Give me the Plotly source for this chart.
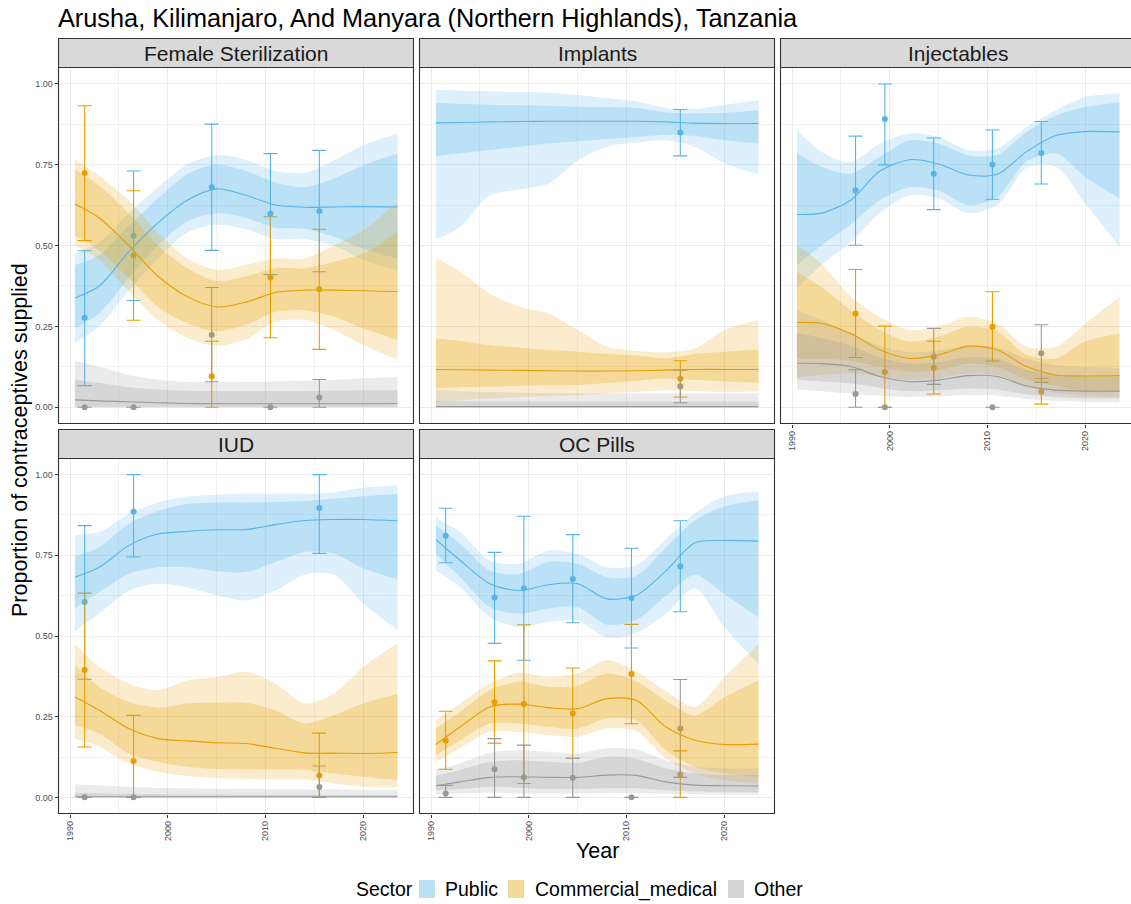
import plotly.graph_objects as go

# ---------------------------------------------------------------- data
PANELS = ["Female Sterilization", "Implants", "Injectables", "IUD", "OC Pills"]
SECTORS = ["Public", "Commercial_medical", "Other"]

# model grid (years at which the fitted curves / intervals were read)
YEARS = [1990.5, 1993, 1996, 1999, 2002, 2005, 2008, 2011, 2014, 2017, 2020, 2023.5]

# --- Female Sterilization
fs_pub_med = [0.338, 0.375, 0.48, 0.57, 0.64, 0.675, 0.655, 0.625, 0.618, 0.619, 0.62, 0.619]
fs_pub_lo95 = [0.2, 0.25, 0.36, 0.46, 0.54, 0.565, 0.55, 0.52, 0.52, 0.5, 0.455, 0.424]
fs_pub_lo80 = [0.245, 0.29, 0.4, 0.5, 0.575, 0.6, 0.585, 0.555, 0.552, 0.527, 0.49, 0.46]
fs_pub_hi80 = [0.44, 0.47, 0.56, 0.645, 0.72, 0.75, 0.73, 0.695, 0.68, 0.707, 0.748, 0.784]
fs_pub_hi95 = [0.475, 0.51, 0.6, 0.68, 0.75, 0.78, 0.765, 0.73, 0.725, 0.763, 0.81, 0.846]
fs_com_med = [0.628, 0.585, 0.5, 0.405, 0.342, 0.31, 0.325, 0.355, 0.362, 0.362, 0.36, 0.357]
fs_com_lo95 = [0.5, 0.455, 0.36, 0.27, 0.215, 0.19, 0.21, 0.265, 0.27, 0.24, 0.192, 0.148]
fs_com_lo80 = [0.53, 0.485, 0.4, 0.31, 0.26, 0.235, 0.255, 0.295, 0.3, 0.28, 0.244, 0.208]
fs_com_hi80 = [0.735, 0.685, 0.6, 0.5, 0.43, 0.39, 0.405, 0.43, 0.43, 0.45, 0.475, 0.542]
fs_com_hi95 = [0.765, 0.715, 0.64, 0.54, 0.46, 0.425, 0.44, 0.46, 0.46, 0.5, 0.547, 0.635]
fs_oth_med = [0.023, 0.02, 0.017, 0.014, 0.012, 0.011, 0.011, 0.011, 0.011, 0.011, 0.011, 0.012]
fs_oth_lo95 = [0.0, 0.0, 0.0, 0.0, 0.0, 0.0, 0.0, 0.0, 0.0, 0.0, 0.0, 0.0]
fs_oth_lo80 = [0.002, 0.002, 0.002, 0.002, 0.002, 0.002, 0.002, 0.002, 0.002, 0.002, 0.002, 0.002]
fs_oth_hi80 = [0.086, 0.075, 0.062, 0.055, 0.051, 0.05, 0.05, 0.05, 0.05, 0.052, 0.053, 0.053]
fs_oth_hi95 = [0.144, 0.125, 0.1, 0.085, 0.078, 0.077, 0.078, 0.08, 0.082, 0.085, 0.09, 0.094]

# --- Implants
im_pub_med = [0.879, 0.88, 0.882, 0.883, 0.884, 0.884, 0.884, 0.884, 0.882, 0.878, 0.877, 0.877]
im_pub_lo95 = [0.519, 0.558, 0.655, 0.673, 0.691, 0.763, 0.805, 0.818, 0.825, 0.805, 0.755, 0.719]
im_pub_lo80 = [0.776, 0.785, 0.795, 0.805, 0.815, 0.822, 0.829, 0.835, 0.842, 0.838, 0.825, 0.815]
im_pub_hi80 = [0.94, 0.937, 0.935, 0.933, 0.931, 0.929, 0.927, 0.925, 0.912, 0.908, 0.91, 0.918]
im_pub_hi95 = [0.981, 0.978, 0.976, 0.975, 0.972, 0.965, 0.955, 0.945, 0.925, 0.922, 0.935, 0.949]
im_com_med = [0.117, 0.116, 0.115, 0.114, 0.113, 0.112, 0.112, 0.113, 0.115, 0.117, 0.117, 0.117]
im_com_lo95 = [0.017, 0.022, 0.027, 0.031, 0.035, 0.038, 0.043, 0.048, 0.053, 0.05, 0.048, 0.05]
im_com_lo80 = [0.059, 0.062, 0.064, 0.066, 0.068, 0.069, 0.075, 0.082, 0.089, 0.085, 0.08, 0.077]
im_com_hi80 = [0.213, 0.205, 0.192, 0.185, 0.178, 0.172, 0.165, 0.16, 0.152, 0.165, 0.172, 0.179]
im_com_hi95 = [0.462, 0.419, 0.352, 0.311, 0.29, 0.239, 0.187, 0.174, 0.17, 0.182, 0.239, 0.27]
im_oth_med = [0.002, 0.002, 0.002, 0.002, 0.002, 0.002, 0.002, 0.002, 0.002, 0.002, 0.002, 0.002]
im_oth_lo95 = [0.0, 0.0, 0.0, 0.0, 0.0, 0.0, 0.0, 0.0, 0.0, 0.0, 0.0, 0.0]
im_oth_lo80 = [0.0, 0.0, 0.0, 0.0, 0.0, 0.0, 0.0, 0.0, 0.0, 0.0, 0.0, 0.0]
im_oth_hi80 = [0.02, 0.019, 0.018, 0.018, 0.017, 0.017, 0.017, 0.017, 0.017, 0.017, 0.017, 0.017]
im_oth_hi95 = [0.053, 0.05, 0.047, 0.045, 0.044, 0.043, 0.043, 0.043, 0.043, 0.043, 0.043, 0.043]

# --- Injectables
in_pub_med = [0.596, 0.6, 0.64, 0.73, 0.765, 0.752, 0.718, 0.72, 0.79, 0.84, 0.852, 0.851]
in_pub_lo95 = [0.367, 0.44, 0.51, 0.6, 0.655, 0.645, 0.6, 0.625, 0.74, 0.743, 0.63, 0.496]
in_pub_lo80 = [0.44, 0.5, 0.565, 0.64, 0.68, 0.67, 0.625, 0.65, 0.76, 0.784, 0.712, 0.645]
in_pub_hi80 = [0.786, 0.743, 0.722, 0.774, 0.825, 0.815, 0.779, 0.78, 0.851, 0.902, 0.928, 0.943]
in_pub_hi95 = [0.858, 0.79, 0.757, 0.815, 0.846, 0.835, 0.795, 0.8, 0.866, 0.918, 0.959, 0.969]
in_com_med = [0.262, 0.26, 0.228, 0.177, 0.151, 0.162, 0.189, 0.177, 0.126, 0.1, 0.097, 0.098]
in_com_lo95 = [0.094, 0.1, 0.105, 0.095, 0.085, 0.09, 0.105, 0.1, 0.065, 0.045, 0.035, 0.033]
in_com_lo80 = [0.15, 0.15, 0.145, 0.125, 0.11, 0.115, 0.135, 0.125, 0.085, 0.065, 0.05, 0.048]
in_com_hi80 = [0.419, 0.372, 0.3, 0.239, 0.203, 0.218, 0.249, 0.234, 0.162, 0.151, 0.203, 0.228]
in_com_hi95 = [0.501, 0.444, 0.342, 0.28, 0.239, 0.249, 0.28, 0.259, 0.187, 0.187, 0.259, 0.341]
in_oth_med = [0.136, 0.135, 0.126, 0.095, 0.079, 0.084, 0.098, 0.095, 0.066, 0.053, 0.05, 0.05]
in_oth_lo95 = [0.056, 0.05, 0.043, 0.036, 0.032, 0.034, 0.038, 0.036, 0.026, 0.02, 0.017, 0.015]
in_oth_lo80 = [0.085, 0.08, 0.074, 0.06, 0.05, 0.052, 0.058, 0.055, 0.04, 0.032, 0.028, 0.027]
in_oth_hi80 = [0.23, 0.215, 0.19, 0.155, 0.135, 0.14, 0.155, 0.15, 0.115, 0.1, 0.095, 0.092]
in_oth_hi95 = [0.3, 0.27, 0.23, 0.19, 0.17, 0.175, 0.19, 0.185, 0.15, 0.13, 0.125, 0.12]

# --- IUD
iu_pub_med = [0.682, 0.713, 0.78, 0.816, 0.824, 0.829, 0.83, 0.845, 0.858, 0.861, 0.861, 0.857]
iu_pub_lo95 = [0.515, 0.57, 0.64, 0.662, 0.65, 0.626, 0.61, 0.641, 0.69, 0.69, 0.6, 0.518]
iu_pub_lo80 = [0.585, 0.636, 0.693, 0.713, 0.713, 0.701, 0.698, 0.729, 0.76, 0.755, 0.71, 0.676]
iu_pub_hi80 = [0.746, 0.775, 0.847, 0.887, 0.909, 0.914, 0.914, 0.915, 0.918, 0.925, 0.933, 0.941]
iu_pub_hi95 = [0.813, 0.822, 0.878, 0.914, 0.932, 0.938, 0.94, 0.94, 0.94, 0.945, 0.959, 0.966]
iu_com_med = [0.311, 0.27, 0.213, 0.182, 0.175, 0.169, 0.167, 0.152, 0.138, 0.137, 0.136, 0.139]
iu_com_lo95 = [0.182, 0.157, 0.105, 0.079, 0.066, 0.059, 0.057, 0.057, 0.056, 0.043, 0.033, 0.031]
iu_com_lo80 = [0.224, 0.198, 0.136, 0.11, 0.095, 0.088, 0.087, 0.087, 0.085, 0.074, 0.064, 0.054]
iu_com_hi80 = [0.411, 0.342, 0.296, 0.278, 0.291, 0.293, 0.293, 0.27, 0.229, 0.255, 0.291, 0.32]
iu_com_hi95 = [0.476, 0.404, 0.353, 0.332, 0.363, 0.373, 0.389, 0.353, 0.291, 0.322, 0.404, 0.478]
iu_oth_med = [0.002, 0.002, 0.002, 0.002, 0.002, 0.002, 0.002, 0.002, 0.002, 0.002, 0.002, 0.002]
iu_oth_lo95 = [0.0, 0.0, 0.0, 0.0, 0.0, 0.0, 0.0, 0.0, 0.0, 0.0, 0.0, 0.0]
iu_oth_lo80 = [0.0, 0.0, 0.0, 0.0, 0.0, 0.0, 0.0, 0.0, 0.0, 0.0, 0.0, 0.0]
iu_oth_hi80 = [0.014, 0.013, 0.011, 0.01, 0.009, 0.009, 0.008, 0.008, 0.008, 0.007, 0.007, 0.007]
iu_oth_hi95 = [0.041, 0.037, 0.033, 0.03, 0.028, 0.027, 0.026, 0.025, 0.024, 0.024, 0.023, 0.023]

# --- OC Pills
oc_pub_med = [0.799, 0.734, 0.662, 0.641, 0.659, 0.662, 0.615, 0.626, 0.701, 0.789, 0.796, 0.794]
oc_pub_lo95 = [0.703, 0.651, 0.559, 0.528, 0.543, 0.548, 0.495, 0.51, 0.568, 0.648, 0.527, 0.413]
oc_pub_lo80 = [0.755, 0.682, 0.59, 0.569, 0.585, 0.59, 0.535, 0.55, 0.624, 0.69, 0.63, 0.557]
oc_pub_hi80 = [0.842, 0.786, 0.703, 0.692, 0.729, 0.724, 0.682, 0.687, 0.773, 0.858, 0.902, 0.921]
oc_pub_hi95 = [0.866, 0.822, 0.734, 0.724, 0.765, 0.755, 0.713, 0.72, 0.799, 0.88, 0.933, 0.948]
oc_com_med = [0.164, 0.219, 0.28, 0.289, 0.278, 0.275, 0.306, 0.301, 0.219, 0.177, 0.164, 0.165]
oc_com_lo95 = [0.11, 0.153, 0.203, 0.203, 0.193, 0.188, 0.213, 0.205, 0.121, 0.074, 0.054, 0.043]
oc_com_lo80 = [0.131, 0.177, 0.229, 0.229, 0.219, 0.213, 0.244, 0.239, 0.146, 0.095, 0.074, 0.064]
oc_com_hi80 = [0.213, 0.265, 0.332, 0.358, 0.342, 0.347, 0.384, 0.36, 0.3, 0.254, 0.31, 0.362]
oc_com_hi95 = [0.239, 0.291, 0.353, 0.386, 0.373, 0.384, 0.425, 0.39, 0.33, 0.28, 0.372, 0.475]
oc_oth_med = [0.036, 0.048, 0.062, 0.064, 0.062, 0.062, 0.069, 0.068, 0.048, 0.038, 0.036, 0.035]
oc_oth_lo95 = [0.01, 0.012, 0.014, 0.013, 0.012, 0.012, 0.013, 0.013, 0.011, 0.01, 0.009, 0.009]
oc_oth_lo80 = [0.023, 0.026, 0.033, 0.03, 0.026, 0.026, 0.028, 0.028, 0.022, 0.018, 0.016, 0.016]
oc_oth_hi80 = [0.066, 0.085, 0.11, 0.115, 0.11, 0.107, 0.126, 0.12, 0.09, 0.074, 0.069, 0.069]
oc_oth_hi95 = [0.087, 0.105, 0.138, 0.146, 0.141, 0.136, 0.152, 0.148, 0.115, 0.095, 0.09, 0.09]

# survey observations (value, lower, upper)
fs_obs_years = [1991.5, 1996.5, 2004.5, 2010.5, 2015.5]
fs_pub_obs = [0.277, 0.53, 0.68, 0.598, 0.606]
fs_pub_obs_lo = [0.067, 0.33, 0.485, 0.41, 0.419]
fs_pub_obs_hi = [0.484, 0.73, 0.875, 0.784, 0.794]
fs_com_obs = [0.724, 0.469, 0.096, 0.401, 0.365]
fs_com_obs_lo = [0.515, 0.269, 0.0, 0.215, 0.179]
fs_com_obs_hi = [0.932, 0.669, 0.204, 0.589, 0.55]
fs_oth_obs = [0.0, 0.0, 0.224, 0.0, 0.03]
fs_oth_obs_lo = [0.0, 0.0, 0.079, 0.0, 0.0]
fs_oth_obs_hi = [0.0, 0.0, 0.37, 0.0, 0.086]

im_obs_years = [2015.5]
im_pub_obs, im_pub_obs_lo, im_pub_obs_hi = [0.849], [0.777], [0.92]
im_com_obs, im_com_obs_lo, im_com_obs_hi = [0.088], [0.032], [0.144]
im_oth_obs, im_oth_obs_lo, im_oth_obs_hi = [0.065], [0.014], [0.115]

in_obs_years = [1996.5, 1999.5, 2004.5, 2010.5, 2015.5]
in_pub_obs = [0.671, 0.891, 0.722, 0.75, 0.786]
in_pub_obs_lo = [0.501, 0.749, 0.611, 0.643, 0.69]
in_pub_obs_hi = [0.838, 0.999, 0.832, 0.857, 0.883]
in_com_obs = [0.29, 0.109, 0.122, 0.249, 0.048]
in_com_obs_lo = [0.154, 0.0, 0.041, 0.143, 0.01]
in_com_obs_hi = [0.426, 0.251, 0.204, 0.357, 0.09]
in_oth_obs = [0.041, 0.0, 0.156, 0.0, 0.167]
in_oth_obs_lo = [0.0, 0.0, 0.071, 0.0, 0.077]
in_oth_obs_hi = [0.116, 0.0, 0.244, 0.0, 0.255]

iu_obs_years = [1991.5, 1996.5, 2015.5]
iu_pub_obs = [0.605, 0.886, 0.897]
iu_pub_obs_lo = [0.366, 0.745, 0.756]
iu_pub_obs_hi = [0.842, 1.0, 1.0]
iu_com_obs = [0.395, 0.113, 0.068]
iu_com_obs_lo = [0.156, 0.0, 0.0]
iu_com_obs_hi = [0.633, 0.254, 0.199]
iu_oth_obs = [0.0, 0.0, 0.032]
iu_oth_obs_lo = [0.0, 0.0, 0.0]
iu_oth_obs_hi = [0.0, 0.0, 0.097]

oc_obs_years = [1991.5, 1996.5, 1999.5, 2004.5, 2010.5, 2015.5]
oc_pub_obs = [0.811, 0.619, 0.648, 0.677, 0.618, 0.716]
oc_pub_obs_lo = [0.727, 0.477, 0.425, 0.541, 0.463, 0.575]
oc_pub_obs_hi = [0.896, 0.759, 0.871, 0.814, 0.772, 0.857]
oc_com_obs = [0.176, 0.295, 0.289, 0.26, 0.382, 0.071]
oc_com_obs_lo = [0.087, 0.168, 0.043, 0.121, 0.228, 0.0]
oc_com_obs_hi = [0.267, 0.423, 0.535, 0.401, 0.536, 0.144]
oc_oth_obs = [0.012, 0.087, 0.062, 0.061, 0.0, 0.213]
oc_oth_obs_lo = [0.0, 0.0, 0.0, 0.0, 0.0, 0.062]
oc_oth_obs_hi = [0.037, 0.182, 0.162, 0.121, 0.0, 0.365]

X_TICKS = [1990, 2000, 2010, 2020]
Y_TICKS = [0.0, 0.25, 0.5, 0.75, 1.0]
Y_TICK_TEXT = ["0.00", "0.25", "0.50", "0.75", "1.00"]

# ---------------------------------------------------------------- assemble
curves = {
    0: [(fs_pub_med, fs_pub_lo95, fs_pub_lo80, fs_pub_hi80, fs_pub_hi95),
        (fs_com_med, fs_com_lo95, fs_com_lo80, fs_com_hi80, fs_com_hi95),
        (fs_oth_med, fs_oth_lo95, fs_oth_lo80, fs_oth_hi80, fs_oth_hi95)],
    1: [(im_pub_med, im_pub_lo95, im_pub_lo80, im_pub_hi80, im_pub_hi95),
        (im_com_med, im_com_lo95, im_com_lo80, im_com_hi80, im_com_hi95),
        (im_oth_med, im_oth_lo95, im_oth_lo80, im_oth_hi80, im_oth_hi95)],
    2: [(in_pub_med, in_pub_lo95, in_pub_lo80, in_pub_hi80, in_pub_hi95),
        (in_com_med, in_com_lo95, in_com_lo80, in_com_hi80, in_com_hi95),
        (in_oth_med, in_oth_lo95, in_oth_lo80, in_oth_hi80, in_oth_hi95)],
    3: [(iu_pub_med, iu_pub_lo95, iu_pub_lo80, iu_pub_hi80, iu_pub_hi95),
        (iu_com_med, iu_com_lo95, iu_com_lo80, iu_com_hi80, iu_com_hi95),
        (iu_oth_med, iu_oth_lo95, iu_oth_lo80, iu_oth_hi80, iu_oth_hi95)],
    4: [(oc_pub_med, oc_pub_lo95, oc_pub_lo80, oc_pub_hi80, oc_pub_hi95),
        (oc_com_med, oc_com_lo95, oc_com_lo80, oc_com_hi80, oc_com_hi95),
        (oc_oth_med, oc_oth_lo95, oc_oth_lo80, oc_oth_hi80, oc_oth_hi95)],
}
observations = {
    0: (fs_obs_years, [(fs_pub_obs, fs_pub_obs_lo, fs_pub_obs_hi),
                       (fs_com_obs, fs_com_obs_lo, fs_com_obs_hi),
                       (fs_oth_obs, fs_oth_obs_lo, fs_oth_obs_hi)]),
    1: (im_obs_years, [(im_pub_obs, im_pub_obs_lo, im_pub_obs_hi),
                       (im_com_obs, im_com_obs_lo, im_com_obs_hi),
                       (im_oth_obs, im_oth_obs_lo, im_oth_obs_hi)]),
    2: (in_obs_years, [(in_pub_obs, in_pub_obs_lo, in_pub_obs_hi),
                       (in_com_obs, in_com_obs_lo, in_com_obs_hi),
                       (in_oth_obs, in_oth_obs_lo, in_oth_obs_hi)]),
    3: (iu_obs_years, [(iu_pub_obs, iu_pub_obs_lo, iu_pub_obs_hi),
                       (iu_com_obs, iu_com_obs_lo, iu_com_obs_hi),
                       (iu_oth_obs, iu_oth_obs_lo, iu_oth_obs_hi)]),
    4: (oc_obs_years, [(oc_pub_obs, oc_pub_obs_lo, oc_pub_obs_hi),
                       (oc_com_obs, oc_com_obs_lo, oc_com_obs_hi),
                       (oc_oth_obs, oc_oth_obs_lo, oc_oth_obs_hi)]),
}

RGB = {"Public": (86, 180, 233), "Commercial_medical": (230, 159, 0), "Other": (153, 153, 153)}


def rgba(rgb, a):
    return "rgba(%d,%d,%d,%s)" % (rgb[0], rgb[1], rgb[2], a)


W, H = 1131, 904
FONT = "Liberation Sans, Arial, Helvetica, sans-serif"
COL_X = [(58.5, 413.5), (419.5, 774.5), (780.5, 1135.5)]
ROW_Y = [(67.5, 423.5), (458.5, 813.5)]
STRIP_Y = [(38.5, 67.5), (429.5, 458.5)]
GRID = [(0, 0), (0, 1), (0, 2), (1, 0), (1, 1)]
PX_PER_YEAR = 9.777
X0_YEAR = 1988.824

fig = go.Figure()
layout = dict(
    width=W, height=H,
    margin=dict(l=0, r=0, t=0, b=0),
    paper_bgcolor="white", plot_bgcolor="white",
    showlegend=False,
    font=dict(family=FONT, color="black"),
)
shapes = []
annotations = []

for p, name in enumerate(PANELS):
    r, c = GRID[p]
    xa = "x" if p == 0 else "x%d" % (p + 1)
    ya = "y" if p == 0 else "y%d" % (p + 1)
    x0, x1 = COL_X[c]
    x1c = min(x1, W)
    y0, y1 = ROW_Y[r]

    show_x = (r == 1) or (p == 2)
    show_y = (c == 0)

    layout["xaxis" if p == 0 else "xaxis%d" % (p + 1)] = dict(
        domain=[x0 / W, x1c / W], anchor=ya,
        range=[X0_YEAR, X0_YEAR + (x1c - x0) / PX_PER_YEAR],
        tickvals=X_TICKS, ticktext=[str(v) for v in X_TICKS],
        showticklabels=show_x, ticks="outside" if show_x else "",
        ticklen=3, tickcolor="#333333", tickwidth=1, tickangle=-90,
        tickfont=dict(size=9, color="#4D4D4D", family=FONT),
        showgrid=True, gridcolor="#EBEBEB", gridwidth=1.1, zeroline=False,
        minor=dict(tickvals=[1995, 2005, 2015], showgrid=True, gridcolor="#F2F2F2", gridwidth=0.6),
        showline=False, fixedrange=True,
    )
    layout["yaxis" if p == 0 else "yaxis%d" % (p + 1)] = dict(
        domain=[1 - y1 / H, 1 - y0 / H], anchor=xa,
        range=[-0.05, 1.05],
        tickvals=Y_TICKS, ticktext=Y_TICK_TEXT,
        showticklabels=show_y, ticks="outside" if show_y else "",
        ticklen=3, tickcolor="#333333", tickwidth=1,
        tickfont=dict(size=9, color="#4D4D4D", family=FONT),
        showgrid=True, gridcolor="#EBEBEB", gridwidth=1.1, zeroline=False,
        minor=dict(tickvals=[0.125, 0.375, 0.625, 0.875], showgrid=True, gridcolor="#F2F2F2", gridwidth=0.6),
        showline=False, fixedrange=True,
    )

    # observed points with error bars (drawn first; ribbons sit over them)
    obs_years, obs_sets = observations[p]
    for s, (val, lo, hi) in enumerate(obs_sets):
        col = rgba(RGB[SECTORS[s]], 1)
        fig.add_trace(go.Scatter(
            x=obs_years, y=val, xaxis=xa, yaxis=ya, mode="markers",
            marker=dict(size=6, color=col),
            error_y=dict(type="data", symmetric=False,
                         array=[h - v for h, v in zip(hi, val)],
                         arrayminus=[v - l for v, l in zip(val, lo)],
                         color=col, thickness=1.1, width=7),
            hoverinfo="skip",
        ))

    # uncertainty ribbons
    for s, (med, lo95, lo80, hi80, hi95) in enumerate(curves[p]):
        rgb = RGB[SECTORS[s]]
        for lo, hi, a in ((lo95, hi95, 0.2), (lo80, hi80, 0.25)):
            fig.add_trace(go.Scatter(
                x=YEARS, y=lo, xaxis=xa, yaxis=ya, mode="lines",
                line=dict(width=0, shape="spline", smoothing=0.8),
                hoverinfo="skip",
            ))
            fig.add_trace(go.Scatter(
                x=YEARS, y=hi, xaxis=xa, yaxis=ya, mode="lines",
                line=dict(width=0, shape="spline", smoothing=0.8),
                fill="tonexty", fillcolor=rgba(rgb, a),
                hoverinfo="skip",
            ))

    # median lines
    for s, (med, lo95, lo80, hi80, hi95) in enumerate(curves[p]):
        fig.add_trace(go.Scatter(
            x=YEARS, y=med, xaxis=xa, yaxis=ya, mode="lines",
            line=dict(width=1.1, color=rgba(RGB[SECTORS[s]], 1), shape="spline", smoothing=0.8),
            hoverinfo="skip",
        ))

    # panel border and facet strip
    sy0, sy1 = STRIP_Y[r]
    shapes.append(dict(type="rect", xref="paper", yref="paper",
                       x0=x0 / W, x1=x1 / W, y0=1 - y1 / H, y1=1 - y0 / H,
                       line=dict(color="#333333", width=1.1), fillcolor="rgba(0,0,0,0)", layer="above"))
    shapes.append(dict(type="rect", xref="paper", yref="paper",
                       x0=x0 / W, x1=x1 / W, y0=1 - sy1 / H, y1=1 - sy0 / H,
                       line=dict(color="#333333", width=1.1), fillcolor="#D9D9D9", layer="above"))
    annotations.append(dict(text=name, xref="paper", yref="paper",
                            x=(x0 + x1) / 2 / W, y=1 - (sy0 + sy1) / 2 / H,
                            xanchor="center", yanchor="middle", showarrow=False,
                            font=dict(size=21, color="#1A1A1A", family=FONT)))

# title and axis titles
annotations.append(dict(text="Arusha, Kilimanjaro, And Manyara (Northern Highlands), Tanzania",
                        xref="paper", yref="paper", x=56 / W, y=1 - 18 / H,
                        xanchor="left", yanchor="middle", showarrow=False,
                        font=dict(size=25.3, color="black", family=FONT)))
annotations.append(dict(text="Year", xref="paper", yref="paper", x=597 / W, y=1 - 851 / H,
                        xanchor="center", yanchor="middle", showarrow=False,
                        font=dict(size=21.5, color="black", family=FONT)))
annotations.append(dict(text="Proportion of contraceptives supplied", xref="paper", yref="paper",
                        x=20 / W, y=1 - 440 / H, textangle=-90,
                        xanchor="center", yanchor="middle", showarrow=False,
                        font=dict(size=21.5, color="black", family=FONT)))

# legend
annotations.append(dict(text="Sector", xref="paper", yref="paper", x=354 / W, y=1 - 889 / H,
                        xanchor="left", yanchor="middle", showarrow=False,
                        font=dict(size=19.5, color="black", family=FONT)))
legend_pos = [(419, 443), (508, 533), (728, 752)]
for s, (sx, tx) in enumerate(legend_pos):
    shapes.append(dict(type="rect", xref="paper", yref="paper",
                       x0=sx / W, x1=(sx + 16) / W, y0=1 - 898 / H, y1=1 - 880 / H,
                       line=dict(width=0), fillcolor=rgba(RGB[SECTORS[s]], 0.4)))
    annotations.append(dict(text=SECTORS[s], xref="paper", yref="paper", x=tx / W, y=1 - 889 / H,
                            xanchor="left", yanchor="middle", showarrow=False,
                            font=dict(size=19.5, color="black", family=FONT)))

layout["shapes"] = shapes
layout["annotations"] = annotations
fig.update_layout(**layout)

# the page body has a default 8px margin; remove it so the figure sits at the window origin
fig.write_html(
    "out.html",
    config={"displayModeBar": False},
    post_script="document.body.style.margin='0';document.body.style.overflow='hidden';",
)
